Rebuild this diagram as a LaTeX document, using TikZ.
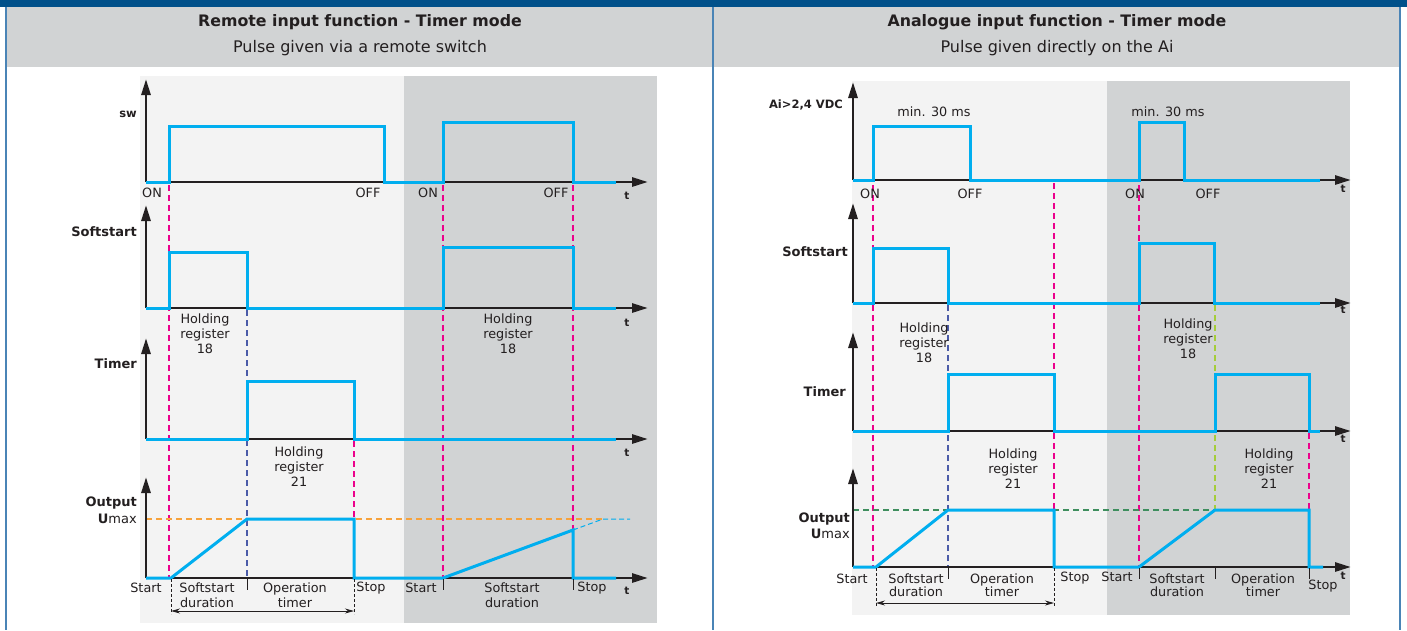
\documentclass[tikz,border=0pt]{standalone}
\usepackage{fontspec}
\setmainfont{DejaVu Sans}
\usetikzlibrary{arrows.meta}
\definecolor{sigblue}{HTML}{00AEEF}
\definecolor{pinkdash}{HTML}{EC008C}
\definecolor{navydash}{HTML}{4B5BA8}
\definecolor{orangedash}{HTML}{F7A23B}
\definecolor{greendash}{HTML}{3E8E5E}
\definecolor{limedash}{HTML}{A5CD39}
\definecolor{bglight}{HTML}{F3F3F3}
\definecolor{bgdark}{HTML}{D1D3D4}
\definecolor{topbar}{HTML}{00508A}
\definecolor{frameblue}{HTML}{4A84B6}
\definecolor{ink}{HTML}{231F20}
\begin{document}
\begin{tikzpicture}[x=1pt,y=-1pt,
  sig/.style={sigblue,line width=3pt,line join=miter},
  axis/.style={ink,line width=2.8pt,-{Triangle[length=16pt,width=9pt]}},
  vdash/.style={line width=1.3pt,dash pattern=on 6pt off 4pt},
  tickdash/.style={ink,line width=0.8pt,dash pattern=on 3pt off 2pt},
  tickmark/.style={ink,line width=0.9pt},
  lab/.style={ink,inner sep=0pt,font=\fontsize{12.8}{15}\selectfont,align=center},
  labr/.style={lab,font=\fontsize{12.8}{13}\selectfont},
  ylab/.style={ink,inner sep=0pt,anchor=east,font=\fontsize{13}{15}\bfseries},
  tlab/.style={ink,inner sep=0pt,font=\fontsize{10.5}{12}\bfseries},
  title/.style={ink,inner sep=0pt,font=\fontsize{15.8}{18}\bfseries},
  subtitle/.style={ink,inner sep=0pt,font=\fontsize{16}{18}\selectfont}]
\useasboundingbox (0,0) rectangle (1407,630);
% frame and header
\fill[white] (0,0) rectangle (1407,630);
\fill[bgdark] (6,7) rectangle (1400,67);
\fill[topbar] (0,0) rectangle (1407,7);
\foreach \x in {6,713,1400}
  \draw[frameblue,line width=2pt] (\x,7) -- (\x,630);
\node[title] (titleL) at (360,22) {Remote input function - Timer mode};
\node[subtitle] (subL) at (360,48) {Pulse given via a remote switch};
\node[title] (titleR) at (1057,22) {Analogue input function - Timer mode};
\node[subtitle] (subR) at (1057,48) {Pulse given directly on the Ai};
% backgrounds
\fill[bglight] (140,76) rectangle (404,623);
\fill[bgdark] (404,76) rectangle (657,623);
\fill[bglight] (852,81) rectangle (1107,615);
\fill[bgdark] (1107,81) rectangle (1350,615);

% ---- left: remote input ----
\draw[vdash,pinkdash] (169,185) -- (169,578);
\draw[vdash,navydash] (247,310) -- (247,578);
\draw[vdash,pinkdash] (354,441) -- (354,578);
\draw[vdash,pinkdash] (443,185) -- (443,578);
\draw[vdash,pinkdash] (573,185) -- (573,530);
\draw[vdash,orangedash] (146,519) -- (603,519);
\foreach \b/\t in {182/79,308/205,439/338,578/477} {
  \draw[axis] (146,\b) -- (146,\t);
  \draw[axis] (146,\b) -- (648,\b);
}
\draw[sig] (146,182) -- (169,182) -- (169,126) -- (384,126) -- (384,182)
  -- (443,182) -- (443,122) -- (573,122) -- (573,182) -- (616,182);
\draw[sig] (146,308) -- (169,308) -- (169,252) -- (247,252) -- (247,308)
  -- (443,308) -- (443,247) -- (573,247) -- (573,308) -- (616,308);
\draw[sig] (146,439) -- (247,439) -- (247,381) -- (354,381) -- (354,439) -- (616,439);
\draw[sig] (146,578) -- (171,578) -- (247,519) -- (354,519) -- (354,578)
  -- (443,578) -- (573,530) -- (573,578) -- (616,578);
\draw[sigblue,line width=1pt,dash pattern=on 5pt off 3pt] (573,530) -- (603,519) -- (630,519);
% ticks and span
\coordinate (spanLa) at (171,611);
\coordinate (spanLb) at (354,611);
\draw[tickdash] (171,579) -- (171,614);
\draw[tickdash] (354,579) -- (354,614);
\foreach \x in {247,443,573}
  \draw[tickmark] (\x,579) -- (\x,590);
\draw[ink,line width=0.9pt,{Stealth[length=9pt,width=5pt]}-{Stealth[length=9pt,width=5pt]}] (spanLa) -- (spanLb);
% labels
\node[ylab,font=\fontsize{11.5}{14}\bfseries] (swL) at (137,114) {sw};
\node[ylab] (softL) at (137,232) {Softstart};
\node[ylab] (timerL) at (137,364) {Timer};
\node[ylab] (outL) at (137,503) {Output};
\node[ylab] (umaxL) at (137,519) {U\mdseries max};
\node[lab] (onL1) at (152,193) {ON};
\node[lab] (offL1) at (368,193) {OFF};
\node[lab] (onL2) at (428,193) {ON};
\node[lab] (offL2) at (556,193) {OFF};
\node[lab] (hr18La) at (205,334) {Holding\\register\\18};
\node[lab] (hr18Lb) at (508,334) {Holding\\register\\18};
\node[lab] (hr21L) at (299,467) {Holding\\register\\21};
\node[lab] (startL1) at (146,588) {Start};
\node[lab] (ssdL1) at (207,595.5) {Softstart\\duration};
\node[lab] (optL) at (295,595.5) {Operation\\timer};
\node[lab] (stopL1) at (371,588) {Stop};
\node[lab] (startL2) at (421,588) {Start};
\node[lab] (ssdL2) at (512,595.5) {Softstart\\duration};
\node[lab] (stopL2) at (592,588) {Stop};
\foreach \y in {196,323,453,591}
  \node[tlab] at (627,\y) {t};

% ---- right: analogue input ----
\draw[vdash,pinkdash] (873,185) -- (873,567);
\draw[vdash,navydash] (948,305) -- (948,567);
\draw[vdash,pinkdash] (1054,183) -- (1054,567);
\draw[vdash,pinkdash] (1139,185) -- (1139,567);
\draw[vdash,limedash] (1215,305) -- (1215,510);
\draw[vdash,pinkdash] (1309,433) -- (1309,567);
\draw[vdash,greendash] (853,510) -- (1215,510);
\foreach \b/\t in {180/82,303/203,431/332,567/468} {
  \draw[axis] (853,\b) -- (853,\t);
  \draw[axis] (853,\b) -- (1351,\b);
}
\draw[sig] (853,180) -- (873,180) -- (873,126) -- (970,126) -- (970,180)
  -- (1139,180) -- (1139,122) -- (1184,122) -- (1184,180) -- (1320,180);
\draw[sig] (853,303) -- (873,303) -- (873,248) -- (948,248) -- (948,303)
  -- (1139,303) -- (1139,243) -- (1214,243) -- (1214,303) -- (1320,303);
\draw[sig] (853,431) -- (948,431) -- (948,374) -- (1054,374) -- (1054,431)
  -- (1215,431) -- (1215,374) -- (1309,374) -- (1309,431) -- (1320,431);
\draw[sig] (853,567) -- (876,567) -- (948,510) -- (1054,510) -- (1054,567)
  -- (1139,567) -- (1215,510) -- (1309,510) -- (1309,567) -- (1323,567);
% ticks and span
\coordinate (spanRa) at (876,603);
\coordinate (spanRb) at (1054,603);
\draw[tickdash] (876,568) -- (876,606);
\draw[tickdash] (1054,568) -- (1054,606);
\foreach \x in {948,1139,1215,1309}
  \draw[tickmark] (\x,568) -- (\x,579);
\draw[ink,line width=0.9pt,{Stealth[length=9pt,width=5pt]}-{Stealth[length=9pt,width=5pt]}] (spanRa) -- (spanRb);
% labels
\node[ylab,font=\fontsize{11.5}{14}\bfseries] (aiR) at (843,105) {Ai>2,4 VDC};
\node[ylab] (softR) at (848,252) {Softstart};
\node[ylab] (timerR) at (846,392) {Timer};
\node[ylab] (outR) at (850,519) {Output};
\node[ylab] (umaxR) at (850,534) {U\mdseries max};
\node[lab] (minR1) at (934,112) {min. 30 ms};
\node[lab] (minR2) at (1168,112) {min. 30 ms};
\node[lab] (onR1) at (870,194) {ON};
\node[lab] (offR1) at (970,194) {OFF};
\node[lab] (onR2) at (1135,194) {ON};
\node[lab] (offR2) at (1208,194) {OFF};
\node[lab] (hr18Ra) at (924,343) {Holding\\register\\18};
\node[lab] (hr18Rb) at (1188,339) {Holding\\register\\18};
\node[lab] (hr21Ra) at (1013,469) {Holding\\register\\21};
\node[lab] (hr21Rb) at (1269,469) {Holding\\register\\21};
\node[lab] (startR1) at (852,579) {Start};
\node[labr] (ssdR1) at (916,585) {Softstart\\duration};
\node[labr] (optR1) at (1002,585) {Operation\\timer};
\node[lab] (stopR1) at (1075,578) {Stop};
\node[lab] (startR2) at (1117,577) {Start};
\node[labr] (ssdR2) at (1177,585) {Softstart\\duration};
\node[labr] (optR2) at (1263,585) {Operation\\timer};
\node[lab] (stopR2) at (1323,586) {Stop};
\foreach \y in {189,310,439,576}
  \node[tlab] at (1343,\y) {t};
\end{tikzpicture}
\end{document}
